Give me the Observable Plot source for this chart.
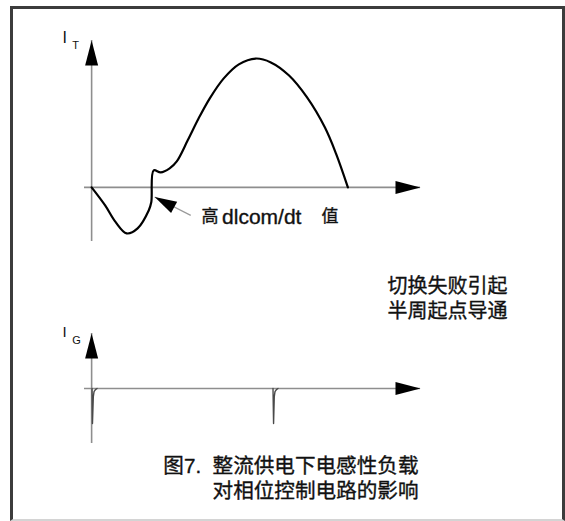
<!DOCTYPE html>
<html><head><meta charset="utf-8">
<script src="https://cdn.jsdelivr.net/npm/d3@7"></script>
<script src="https://cdn.jsdelivr.net/npm/@observablehq/plot@0.6"></script>
<style>
html,body{margin:0;padding:0;background:#fff;}
#wrap{position:relative;width:565px;height:521px;overflow:hidden;background:#fff;}
#frame{position:absolute;left:10px;top:6px;width:555px;height:515px;border:3px solid #3c3c3c;border-bottom:2px solid #d4d4d4;box-sizing:border-box;}
#topChart,#bottomChart{position:absolute;left:0;}
#topChart{top:0;}
#bottomChart{top:260px;}
</style></head><body>
<div id="wrap"><div id="frame"></div><div id="topChart"></div><div id="bottomChart"></div></div>
<script>
// ---- data (time in electrical degrees, currents in relative units) ----
const timeIT = [0, 9.5, 16.9, 24.6, 32.3, 40.1, 41.9, 43.6, 48.5, 54.8, 59.8, 67.5, 75.2, 83.0, 92.8, 103.4, 115.3, 125.9, 138.5, 151.2, 163.8, 171.6, 180];
const currentIT = [0, -0.14, -0.27, -0.357, -0.318, -0.179, -0.116, 0.132, 0.116, 0.148, 0.202, 0.365, 0.536, 0.691, 0.846, 0.955, 1.0, 0.97, 0.87, 0.70, 0.466, 0.264, 0];

const pulseA_t = [0.3, 0.6, 1.2, 1.7, 2.7, 3.8];
const pulseA_IG = [0, -1, -0.23, -0.09, -0.03, 0];
const pulseB_t = [127.4, 127.8, 128.3, 128.8, 129.8, 130.9];
const pulseB_IG = [0, -1, -0.23, -0.09, -0.03, 0];

const timeAxis = [-5, 231];
const itAxis = [-0.42, 1.14];
const igAxis = [-1.571, 1.571];

const annotationTip = [44.3, -0.075];
const annotationTail = [69.6, -0.217];
const annotationParts = ["高", "dlcom/dt", "值"];
const noteLines = ["切换失败引起", "半周起点导通"];
const captionLines = ["图7.  整流供电下电感性负载", "对相位控制电路的影响"];
const labelI = "I", labelT = "T", labelG = "G";

// ---- helpers ----
const FONT = "'Liberation Sans', 'Noto Sans CJK SC', sans-serif";
const ink = {fontFamily: FONT, fill: "#111", stroke: "#111", strokeWidth: 0.35};
function triangle(len, half) {
  return {draw(ctx) { ctx.moveTo(0, 0); ctx.lineTo(half, len); ctx.lineTo(-half, len); ctx.closePath(); }};
}
const axisHead = triangle(25, 6.5);
const annoHead = triangle(22, 6.5);
const axisStyle = {stroke: "#8e8e8e", strokeWidth: 1.6};

const itData = timeIT.map((t, i) => ({t, v: currentIT[i]}));
const igData = [
  ...pulseA_t.map((t, i) => ({t, v: pulseA_IG[i], p: "A"})),
  ...pulseB_t.map((t, i) => ({t, v: pulseB_IG[i], p: "B"}))
];

const xCommon = {domain: timeAxis, axis: null};

const topPlot = Plot.plot({
  width: 565, height: 260,
  marginLeft: 84, marginRight: 145, marginTop: 40, marginBottom: 19,
  x: xCommon,
  y: {domain: itAxis, axis: null},
  style: {background: "transparent", overflow: "visible"},
  marks: [
    Plot.ruleY([0], {x1: timeAxis[0], x2: timeAxis[1], ...axisStyle}),
    Plot.ruleX([0], {y1: itAxis[0], y2: itAxis[1], ...axisStyle}),
    Plot.line(itData, {x: "t", y: "v", curve: "catmull-rom", stroke: "#000", strokeWidth: 2.2}),
    Plot.dot([[0, itAxis[1]]], {x: d => d[0], y: d => d[1], symbol: axisHead, fill: "#000", stroke: "none"}),
    Plot.dot([[timeAxis[1], 0]], {x: d => d[0], y: d => d[1], symbol: axisHead, rotate: 90, fill: "#000", stroke: "none"}),
    Plot.link([[annotationTip, annotationTail]], {x1: d => d[0][0], y1: d => d[0][1], x2: d => d[1][0], y2: d => d[1][1], stroke: "#999", strokeWidth: 1.2}),
    Plot.dot([annotationTip], {x: d => d[0], y: d => d[1], symbol: annoHead, rotate: -62, fill: "#000", stroke: "none"}),
    Plot.text(annotationParts, {x: (d, i) => [77.2, 91.6, 161.5][i], y: -0.229, text: d => d, textAnchor: "start", fontSize: (d, i) => [17, 21, 17][i], ...ink}),
    Plot.text([labelI], {x: 0, y: itAxis[1], text: d => d, dx: -27, dy: -2.5, fontSize: 16, fontFamily: FONT, fill: "#111"}),
    Plot.text([labelT], {x: 0, y: itAxis[1], text: d => d, dx: -16, dy: 5, fontSize: 11, fontFamily: FONT, fill: "#111"})
  ]
});
document.getElementById("topChart").appendChild(topPlot);

const bottomPlot = Plot.plot({
  width: 565, height: 261,
  marginLeft: 84, marginRight: 145, marginTop: 73, marginBottom: 78,
  x: xCommon,
  y: {domain: igAxis, axis: null},
  style: {background: "transparent", overflow: "visible"},
  marks: [
    Plot.ruleY([0], {x1: timeAxis[0], x2: timeAxis[1], ...axisStyle}),
    Plot.ruleX([0], {y1: igAxis[0], y2: igAxis[1], ...axisStyle}),
    Plot.line(igData, {x: "t", y: "v", z: "p", curve: "linear", stroke: "#4a4a4a", strokeWidth: 1.4}),
    Plot.dot([[0, igAxis[1]]], {x: d => d[0], y: d => d[1], symbol: axisHead, fill: "#000", stroke: "none"}),
    Plot.dot([[timeAxis[1], 0]], {x: d => d[0], y: d => d[1], symbol: axisHead, rotate: 90, fill: "#000", stroke: "none"}),
    Plot.text([labelI], {x: 0, y: igAxis[1], text: d => d, dx: -27, dy: -1, fontSize: 15, fontFamily: FONT, fill: "#111"}),
    Plot.text([labelG], {x: 0, y: igAxis[1], text: d => d, dx: -15, dy: 6.5, fontSize: 11, fontFamily: FONT, fill: "#111"}),
    Plot.text(noteLines, {x: 292.1, y: (d, i) => [2.9, 2.186][i], text: d => d, textAnchor: "end", fontSize: 20, ...ink}),
    Plot.text(captionLines, {x: 229.6, y: (d, i) => [-2.229, -2.943][i], text: d => d, textAnchor: "end", fontSize: 20.6, ...ink})
  ]
});
document.getElementById("bottomChart").appendChild(bottomPlot);
</script>
</body></html>
